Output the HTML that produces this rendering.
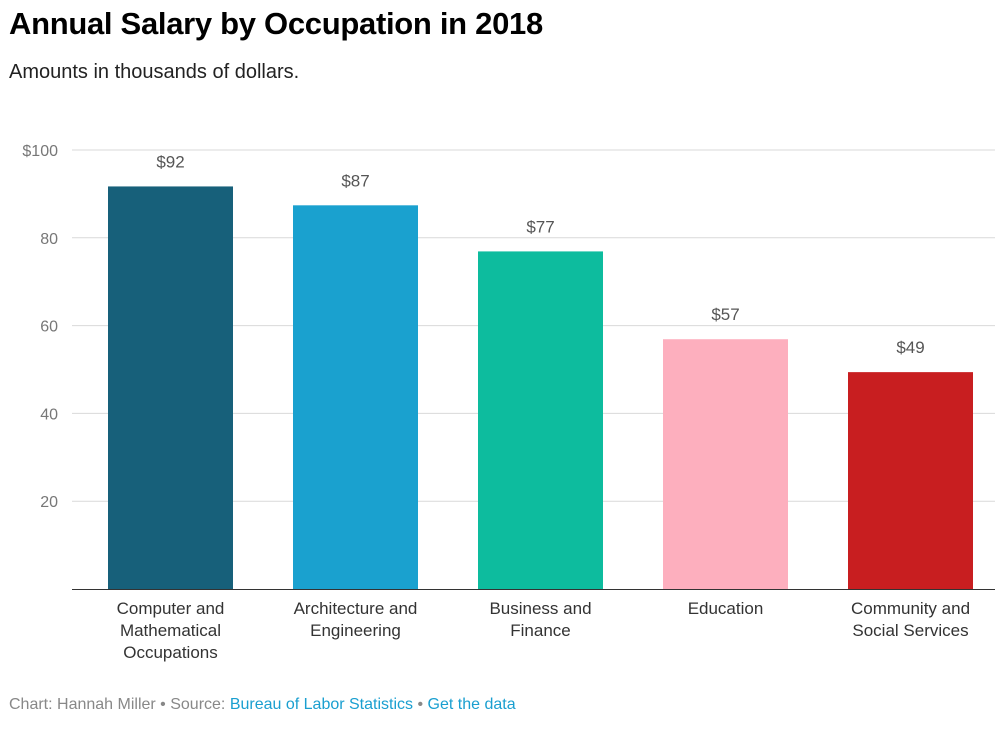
<!DOCTYPE html>
<html><head><meta charset="utf-8"><style>
body{margin:0;background:#fff;font-family:"Liberation Sans",sans-serif;}
#wrap{position:relative;width:1007px;height:732px;overflow:hidden;}
h1{position:absolute;left:9px;top:6px;margin:0;font-size:31px;font-weight:bold;color:#000;letter-spacing:-0.3px}
.sub{position:absolute;left:9px;top:61px;font-size:20px;color:#222}
.foot{position:absolute;left:9px;top:696px;font-size:16px;color:#888}
.foot a{color:#1a9fd0;text-decoration:none}
</style></head><body>
<div id="wrap">
<h1>Annual Salary by Occupation in 2018</h1>
<div class="sub">Amounts in thousands of dollars.</div>
<svg id="chart" width="1007" height="732" style="position:absolute;left:0;top:0"></svg>
<div class="foot">Chart: Hannah Miller • Source: <a href="#">Bureau of Labor Statistics</a> • <a href="#">Get the data</a></div>
</div>
<script>
const categories=[["Computer and","Mathematical","Occupations"],["Architecture and","Engineering"],["Business and","Finance"],["Education"],["Community and","Social Services"]];
const values=[91.7,87.4,76.9,56.9,49.4];
const colors=["#17607a","#1aa1cf","#0dbc9e","#fdafbe","#c81e20"];
const ticks=[20,40,60,80,100];
const svg=document.getElementById('chart');
const NS="http://www.w3.org/2000/svg";
const y0=589,yTop=150,left=72,right=995;
function y(v){return y0-(y0-yTop)*v/100;}
function xc(i){return 170.5+i*185;}
function mk(t,a){const e=document.createElementNS(NS,t);for(const k in a)e.setAttribute(k,a[k]);svg.appendChild(e);return e;}
ticks.forEach(t=>{
 const l=mk('line',{x1:left,x2:right,y1:y(t),y2:y(t),stroke:'#d9d9d9','stroke-width':1});
 
 
 const tx=mk('text',{x:58,y:y(t)+6,'text-anchor':'end','font-size':16,fill:'#777','font-family':'Liberation Sans'});
 tx.textContent=(t===100?'$':'')+t;
 
 
});
values.forEach((v,i)=>{
 const r=mk('rect',{x:xc(i)-62.5,y:y(v),width:125,height:y0-y(v),fill:colors[i]});
 
 
 const t=mk('text',{x:xc(i),y:y(v)-19,'text-anchor':'middle','font-size':17,fill:'#555','font-family':'Liberation Sans'});
 t.textContent='$'+Math.round(v);
 
 
 categories[i].forEach((line,j)=>{
  const c=mk('text',{x:xc(i),y:614+j*22,'text-anchor':'middle','font-size':17,fill:'#333','font-family':'Liberation Sans'});
  c.textContent=line;
  
  
 });
});
const ax=mk('line',{x1:left,x2:right,y1:y0+0.5,y2:y0+0.5,stroke:'#333','stroke-width':1});


</script>
</body></html>
